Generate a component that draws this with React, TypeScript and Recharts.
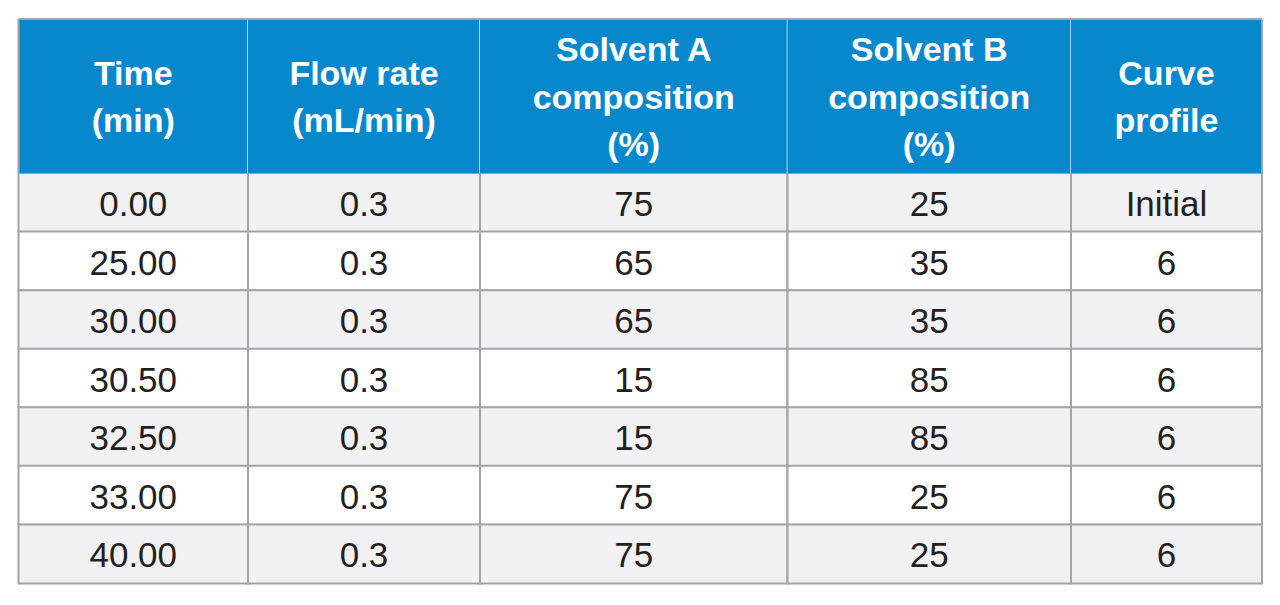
import React from 'react';
import { BarChart, Bar, XAxis, YAxis, Cell, LabelList } from 'recharts';

// ---- Table content ----
const headers = [
  'Time\n(min)',
  'Flow rate\n(mL/min)',
  'Solvent A\ncomposition\n(%)',
  'Solvent B\ncomposition\n(%)',
  'Curve\nprofile',
];
const times = ['0.00', '25.00', '30.00', '30.50', '32.50', '33.00', '40.00'];
const flowRates = ['0.3', '0.3', '0.3', '0.3', '0.3', '0.3', '0.3'];
const solventA = [75, 65, 65, 15, 15, 75, 75];
const solventB = [25, 35, 35, 85, 85, 25, 25];
const curveProfile = ['Initial', '6', '6', '6', '6', '6', '6'];

// ---- Layout (not data) ----
const COL_W = [229.5, 232, 307.5, 283.5, 191];
const TOTAL_W = COL_W.reduce((a, b) => a + b, 0);
const HEADER_BLUE = '#0888cc';
const GRID = '#a4a4a4';
const ROW_GREY = '#f1f1f3';
const FONT = '"Liberation Sans", Arial, Helvetica, sans-serif';

const columns = [times, flowRates, solventA, solventB, curveProfile];

const headerData = [
  Object.assign(
    { row: 'h' },
    ...COL_W.map((w, i) => ({ [`w${i}`]: w, [`t${i}`]: headers[i] }))
  ),
];

const bodyData = times.map((_, r) =>
  Object.assign(
    { row: `r${r}` },
    ...COL_W.map((w, i) => ({ [`w${i}`]: w, [`t${i}`]: String(columns[i][r]) }))
  )
);

const box = (p: any) => {
  const vb = p.viewBox || {};
  return {
    x: p.x ?? vb.x,
    y: p.y ?? vb.y,
    width: p.width ?? vb.width,
    height: p.height ?? vb.height,
  };
};

const headerLabel = (p: any) => {
  const { x, y, width, height } = box(p);
  const lines = String(p.value).split('\n');
  const lh = 47.5;
  const cx = x + width / 2;
  const cy = y + height / 2 + 12.5;
  const start = cy - ((lines.length - 1) * lh) / 2;
  return (
    <text
      x={cx}
      textAnchor="middle"
      fill="#ffffff"
      fontFamily={FONT}
      fontWeight={700}
      fontSize={34}
    >
      {lines.map((l, i) => (
        <tspan key={i} x={cx} y={start + i * lh}>
          {l}
        </tspan>
      ))}
    </text>
  );
};

const bodyLabel = (p: any) => {
  const { x, y, width, height } = box(p);
  return (
    <text
      x={x + width / 2}
      y={y + height / 2 + 13.5}
      textAnchor="middle"
      fill="#231f20"
      fontFamily={FONT}
      fontSize={35}
    >
      {p.value}
    </text>
  );
};

const headerShape = (col: number) => (p: any) => {
  const { x, y, width, height } = p;
  const last = col === COL_W.length - 1;
  return (
    <g>
      <rect x={x} y={y} width={width} height={height} fill={HEADER_BLUE} />
      {!last && (
        <line x1={x + width} x2={x + width} y1={y} y2={y + height} stroke="#d6ecf8" strokeWidth={1.6} />
      )}
      <line x1={x} x2={x + width} y1={y} y2={y} stroke={GRID} strokeWidth={2} />
      {col === 0 && <line x1={x} x2={x} y1={y} y2={y + height} stroke={GRID} strokeWidth={2} />}
      {last && (
        <line x1={x + width} x2={x + width} y1={y} y2={y + height} stroke={GRID} strokeWidth={2} />
      )}
    </g>
  );
};

const MARGIN_LEFT = 18.5;

export default function App() {
  return (
    <div style={{ position: 'absolute', left: 0, top: 0, width: 1280, height: 605, background: '#fff' }}>
      <BarChart
        width={1280}
        height={173}
        data={headerData}
        layout="vertical"
        margin={{ top: 19, right: 1280 - MARGIN_LEFT - TOTAL_W, bottom: 0, left: MARGIN_LEFT }}
        barCategoryGap={0}
        barGap={0}
      >
        <XAxis type="number" domain={[0, TOTAL_W]} hide />
        <YAxis type="category" dataKey="row" hide />
        {COL_W.map((_, i) => (
          <Bar
            key={i}
            dataKey={`w${i}`}
            stackId="h"
            isAnimationActive={false}
            shape={headerShape(i)}
          >
            <LabelList dataKey={`t${i}`} content={headerLabel} />
          </Bar>
        ))}
      </BarChart>
      <BarChart
        width={1280}
        height={432}
        data={bodyData}
        layout="vertical"
        margin={{ top: 0, right: 1280 - MARGIN_LEFT - TOTAL_W, bottom: 22, left: MARGIN_LEFT }}
        barCategoryGap={0}
        barGap={0}
      >
        <XAxis type="number" domain={[0, TOTAL_W]} hide />
        <YAxis type="category" dataKey="row" hide />
        {COL_W.map((_, i) => (
          <Bar
            key={i}
            dataKey={`w${i}`}
            stackId="b"
            isAnimationActive={false}
            stroke={GRID}
            strokeWidth={2}
          >
            {bodyData.map((_, r) => (
              <Cell key={r} fill={r % 2 === 0 ? ROW_GREY : '#ffffff'} />
            ))}
            <LabelList dataKey={`t${i}`} content={bodyLabel} />
          </Bar>
        ))}
      </BarChart>
    </div>
  );
}
